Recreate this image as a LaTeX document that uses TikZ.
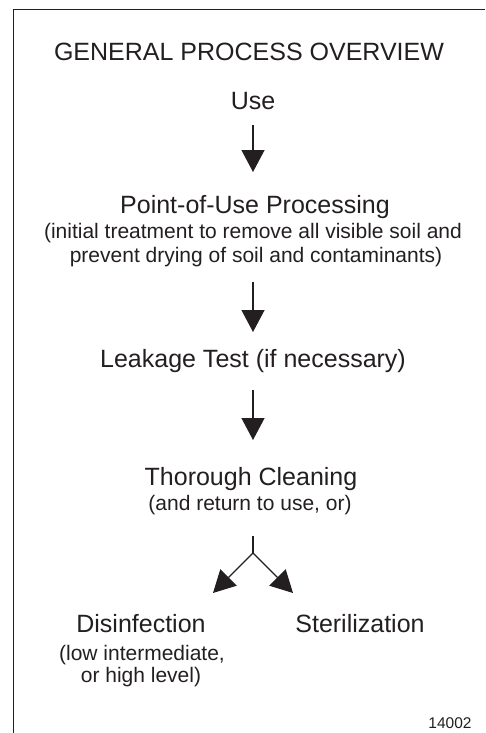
\documentclass[tikz,border=0pt]{standalone}
\usepackage{fontspec}
\setmainfont{Liberation Sans}
\usetikzlibrary{arrows.meta}
\definecolor{ink}{HTML}{231F20}
\begin{document}
\begin{tikzpicture}[x=1pt,y=-1pt,
  big/.style={anchor=base,inner sep=0pt,text=ink,font=\fontsize{25}{30}\selectfont},
  small/.style={anchor=base,inner sep=0pt,text=ink,font=\fontsize{21}{25}\selectfont},
  tiny/.style={anchor=base,inner sep=0pt,text=ink,font=\fontsize{15.5}{18}\selectfont},
  flow/.style={draw=ink,line width=1.3pt,-{Triangle[length=22pt,width=23pt]}},
  frame/.style={draw=ink,line width=1pt}]
\useasboundingbox (0,0) rectangle (486,733);
% partial frame
\coordinate (fbl) at (13,733);
\coordinate (ftl) at (13,10);
\coordinate (ftr) at (485,10);
\draw[frame] (fbl) -- (ftl) -- (ftr);
% texts
\node[big] (title) at (249,61) {GENERAL PROCESS OVERVIEW};
\node[big] (use) at (253,110) {Use};
\node[big] (pou) at (255,213) {Point-of-Use Processing};
\node[small] (pou1) at (253,238) {(initial treatment to remove all visible soil and};
\node[small] (pou2) at (256,262) {prevent drying of soil and contaminants)};
\node[big] (leak) at (253,367) {Leakage Test (if necessary)};
\node[big] (clean) at (251,485) {Thorough Cleaning};
\node[small] (clean1) at (250,510) {(and return to use, or)};
\node[big] (dis) at (141,632) {Disinfection};
\node[small] (dis1) at (142,660) {(low intermediate,};
\node[small] (dis2) at (141,682) {or high level)};
\node[big] (ster) at (360,632) {Sterilization};
\node[tiny] (fig) at (450,728) {14002};
% arrow anchor points
\coordinate (a1s) at (253,125);
\coordinate (a1e) at (253,172);
\coordinate (a2s) at (253,282);
\coordinate (a2e) at (253,332);
\coordinate (a3s) at (253,390);
\coordinate (a3e) at (253,440);
\coordinate (bs) at (253,536);
\coordinate (bj) at (253,553);
\coordinate (bl) at (213,593);
\coordinate (br) at (293,593);
\draw[flow] (a1s) -- (a1e);
\draw[flow] (a2s) -- (a2e);
\draw[flow] (a3s) -- (a3e);
\draw[draw=ink,line width=1.3pt] (bs) -- (bj);
\draw[flow] (bj) -- (bl);
\draw[flow] (bj) -- (br);
\end{tikzpicture}
\end{document}
